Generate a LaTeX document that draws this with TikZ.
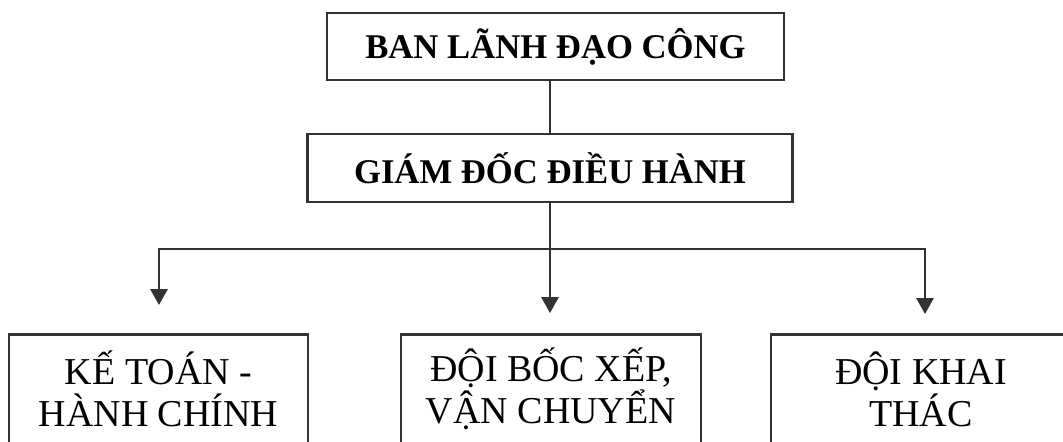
\documentclass[tikz,border=0pt]{standalone}
\usepackage{fontspec}
\setmainfont{Liberation Serif}
\usetikzlibrary{arrows.meta}
\begin{document}
\begin{tikzpicture}[x=0.75pt,y=-0.75pt,
  unit/.style={draw=black!80, line width=1.6pt, rectangle, inner sep=0pt,
    align=center, font=\bfseries\fontsize{26}{30}\selectfont},
  dept/.style={unit, font=\fontsize{28.5}{31.5}\selectfont,
    minimum width=225pt, minimum height=81.75pt},
  link/.style={draw=black!80, line width=1.6pt},
  arrowlink/.style={link, -{Triangle[width=13pt,length=12pt]}}]
  % page frame; the lower boxes run past the bottom edge
  \clip (0,0) rectangle (1063,442);
  \fill[white] (0,0) rectangle (1063,442);

  % management levels
  \node[unit, minimum width=342.75pt, minimum height=50.25pt] (board) at (555.5,46.5) {BAN LÃNH ĐẠO CÔNG};
  \node[unit, minimum width=363.75pt, minimum height=51pt] (ceo) at (550,168) {GIÁM ĐỐC ĐIỀU HÀNH};

  % departments
  \node[dept, minimum width=224.25pt] (acct) at (158.5,389) {KẾ TOÁN -\\HÀNH CHÍNH};
  \node[dept] (load) at (551,389) {ĐỘI BỐC XẾP,\\VẬN CHUYỂN};
  \node[dept] (expl) at (921,389) {ĐỘI KHAI\\THÁC};

  % branching points
  \coordinate (j) at (550,249);
  \coordinate (tL) at (159,305);
  \coordinate (tM) at (550,313);
  \coordinate (tR) at (925,314);

  \draw[link] (board.south -| ceo.north) -- (ceo.north);
  \draw[arrowlink] (ceo.south) -- (tM);
  \draw[arrowlink] (j) -| (tL);
  \draw[arrowlink] (j) -| (tR);
\end{tikzpicture}
\end{document}
